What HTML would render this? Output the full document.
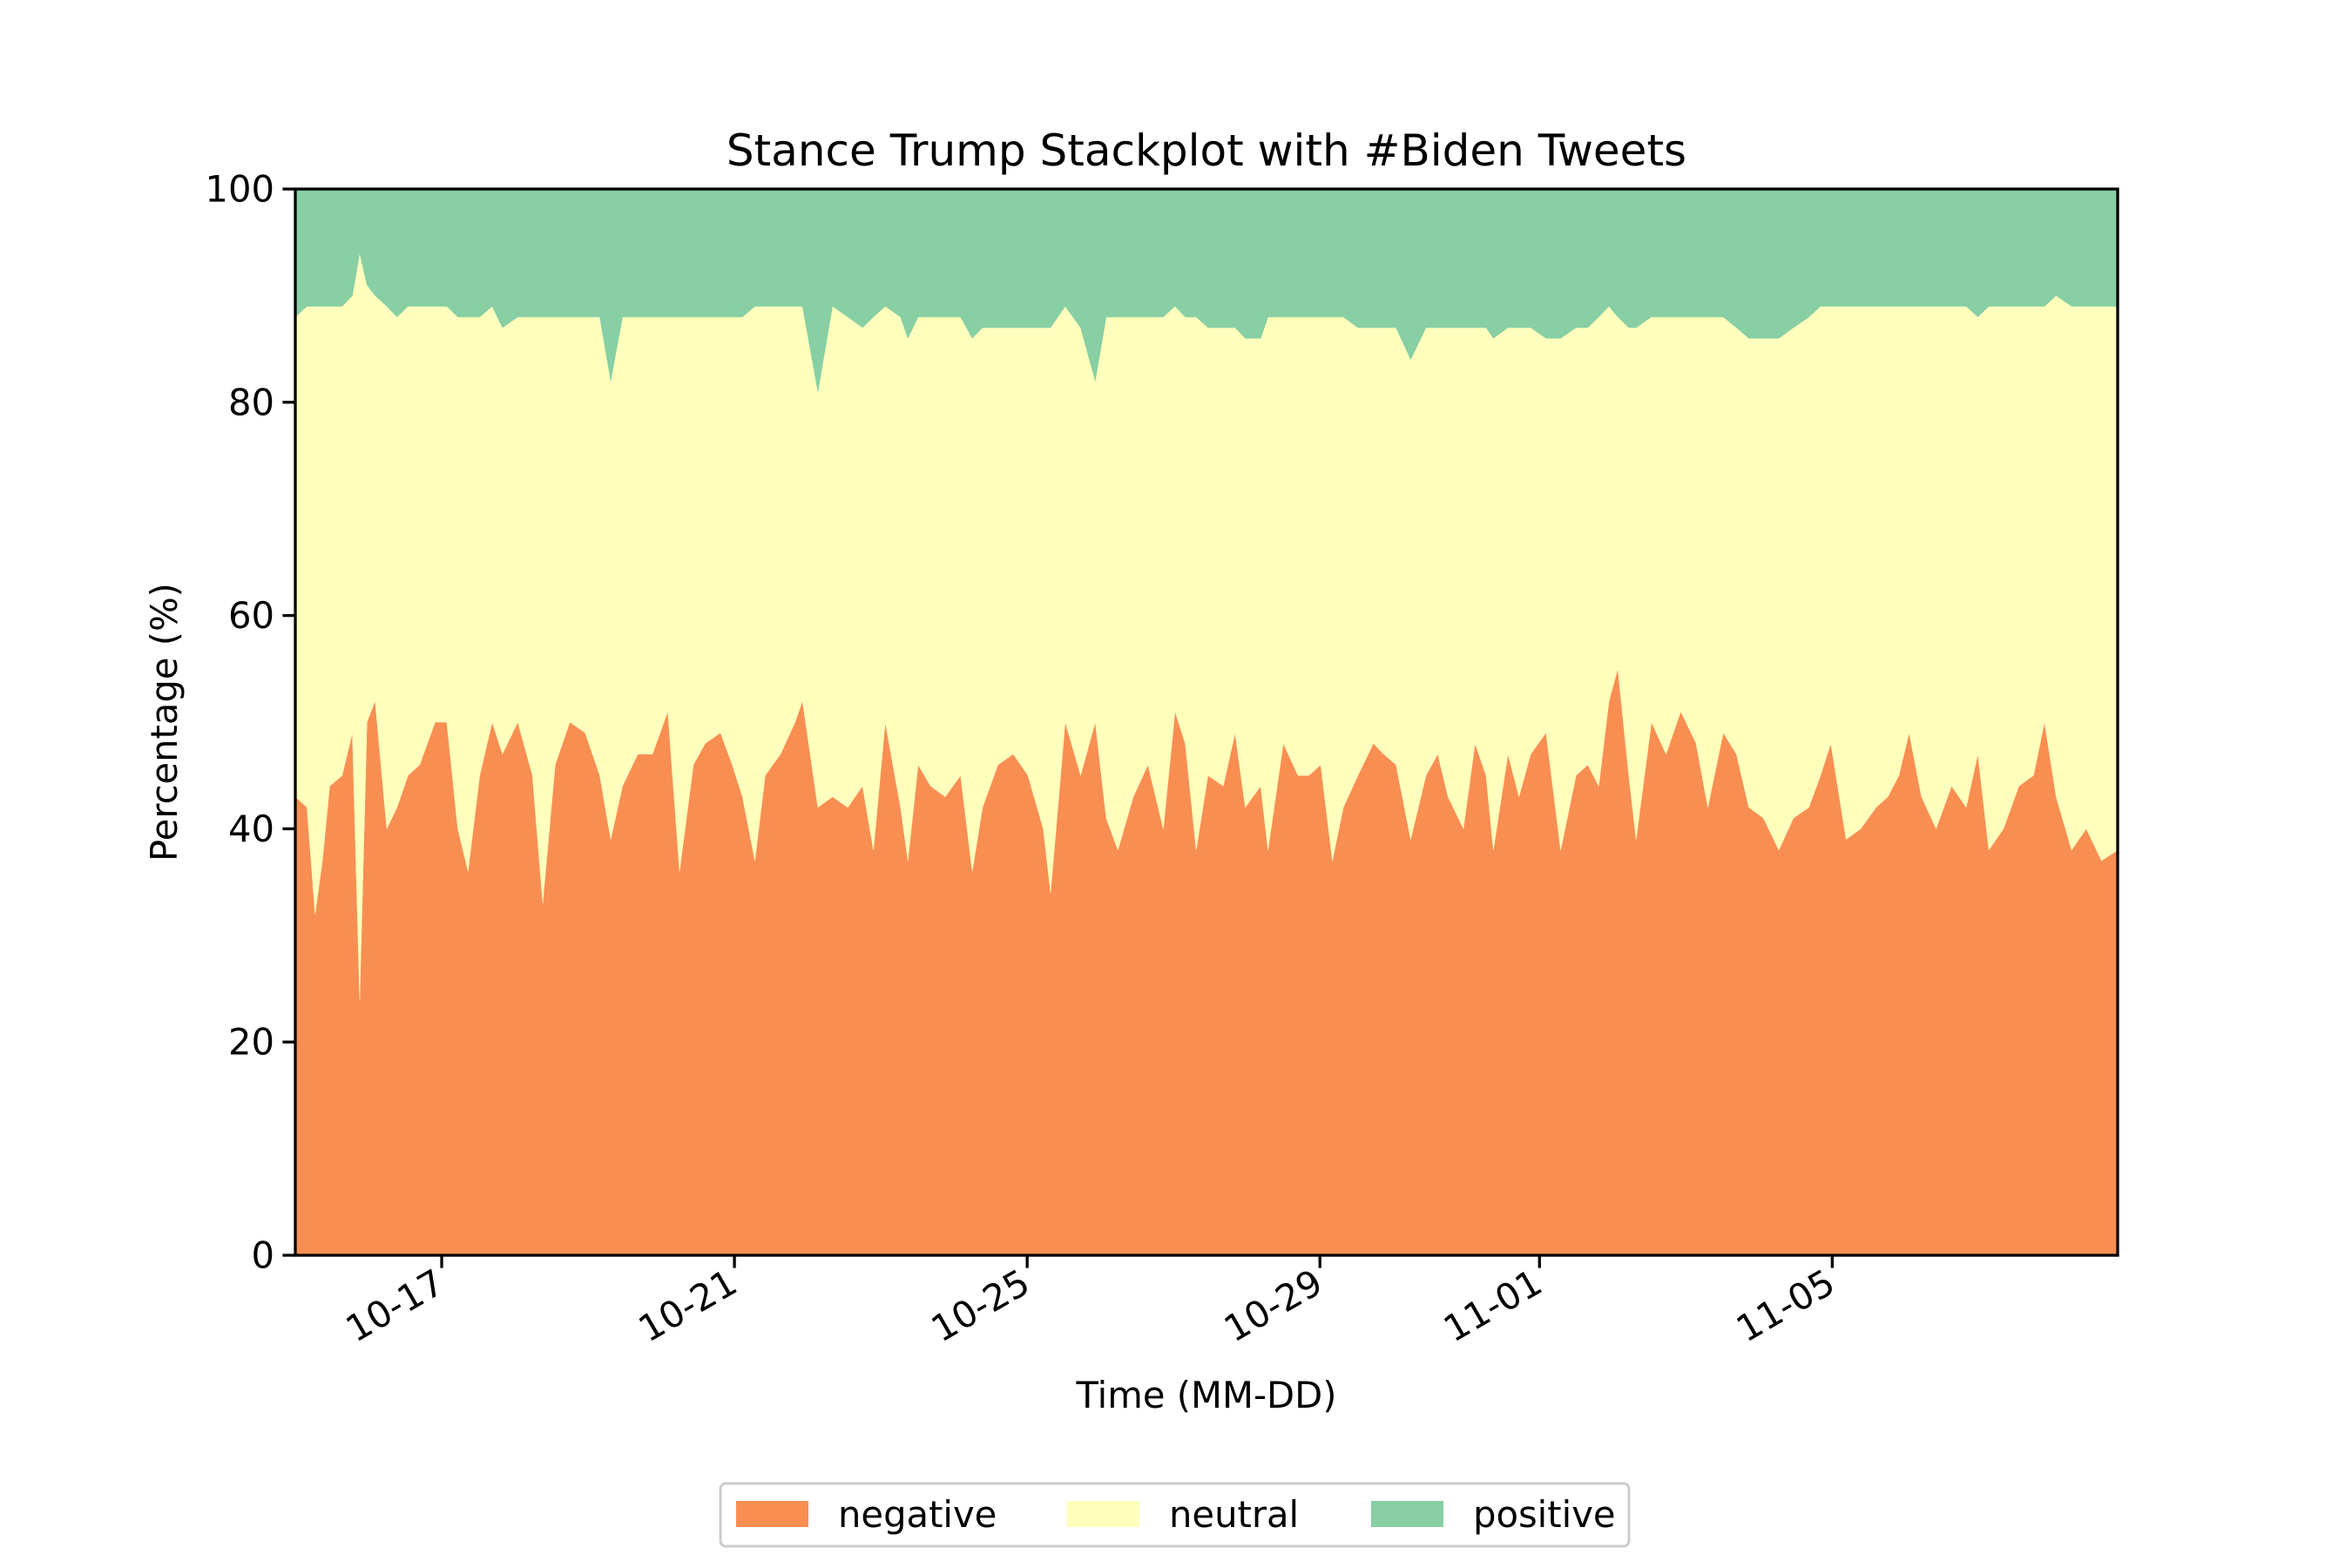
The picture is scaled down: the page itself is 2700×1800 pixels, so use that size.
<!DOCTYPE html>
<html><head><meta charset="utf-8"><style>
html,body{margin:0;padding:0;background:#fff}
svg{display:block;font-family:"DejaVu Sans","Liberation Sans",sans-serif}
</style></head><body>
<svg id="chart" width="2700" height="1800" viewBox="0 0 2700 1800" xmlns="http://www.w3.org/2000/svg">
<rect width="2700" height="1800" fill="#fff"/>
<text x="1385" y="190" font-size="50" text-anchor="middle">Stance Trump Stackplot with #Biden Tweets</text>
<g id="areas"></g>
<g id="axes"></g>
<text x="1385" y="1616" font-size="41.7" text-anchor="middle">Time (MM-DD)</text>
<text transform="translate(203,829) rotate(-90)" font-size="41.7" text-anchor="middle">Percentage (%)</text>
<g id="legend"></g>
</svg>
<script>
// days since 10-15 00:00
const times=[0,0.16,0.27,0.37,0.47,0.64,0.78,0.88,0.98,1.09,
1.25,1.39,1.54,1.70,1.91,2.07,2.22,2.36,2.52,2.69,
2.83,3.04,3.24,3.38,3.55,3.75,3.96,4.16,4.31,4.47,
4.68,4.88,5.09,5.25,5.44,5.60,5.81,5.97,6.11,6.28,
6.42,6.63,6.83,6.93,7.14,7.34,7.55,7.75,7.90,8.06,
8.27,8.37,8.51,8.68,8.88,9.09,9.25,9.39,9.60,9.81,
10.01,10.22,10.32,10.52,10.73,10.93,11.08,11.24,11.45,11.65,
11.86,12.02,12.16,12.31,12.47,12.68,12.84,12.98,13.19,13.29,
13.50,13.70,13.85,14.01,14.17,14.32,14.52,14.73,14.87,15.04,
15.24,15.45,15.61,15.75,15.96,16.12,16.27,16.37,16.57,16.72,
16.88,17.09,17.29,17.50,17.66,17.81,17.95,18.07,18.22,18.32,
18.53,18.73,18.93,19.14,19.30,19.51,19.69,19.86,20.06,20.27,
20.47,20.68,20.84,20.98,21.19,21.39,21.60,21.76,21.91,22.05,
22.22,22.42,22.63,22.83,22.99,23.14,23.34,23.55,23.75,23.90,
24.06,24.27,24.47,24.68,24.90];
const negative=[43,42,32,37,44,45,49,24,50,52,
40,42,45,46,50,50,40,36,45,50,
47,50,45,33,46,50,49,45,39,44,
47,47,51,36,46,48,49,46,43,37,
45,47,50,52,42,43,42,44,38,50,
42,37,46,44,43,45,36,42,46,47,
45,40,34,50,45,50,41,38,43,46,
40,51,48,38,45,44,49,42,44,38,
48,45,45,46,37,42,45,48,47,46,
39,45,47,43,40,48,45,38,47,43,
47,49,38,45,46,44,52,55,45,39,
50,47,51,48,42,49,47,42,41,38,
41,42,45,48,39,40,42,43,45,49,
43,40,44,42,47,38,40,44,45,50,
43,38,40,37,38];
const positive=[12,11,11,11,11,11,10,6,9,10,
11,12,11,11,11,11,12,12,12,11,
13,12,12,12,12,12,12,12,18,12,
12,12,12,12,12,12,12,12,12,11,
11,11,11,11,19,11,12,13,12,11,
12,14,12,12,12,12,14,13,13,13,
13,13,13,11,13,18,12,12,12,12,
12,11,12,12,13,13,13,14,14,12,
12,12,12,12,12,12,13,13,13,13,
16,13,13,13,13,13,13,14,13,13,
13,14,14,13,13,12,11,12,13,13,
12,12,12,12,12,12,13,14,14,14,
13,12,11,11,11,11,11,11,11,11,
11,11,11,11,12,11,11,11,11,11,
10,11,11,11,11];
const neutral=negative.map((v,i)=>100-v-positive[i]);
const xTickDays=[2,6,10,14,17,21];
const xTickLabels=["10-17","10-21","10-25","10-29","11-01","11-05"];
const yTicks=[0,20,40,60,80,100];

const L=339,R=2431,T=217,B=1441,XMAX=24.9;
const xs=d=>L+d/XMAX*(R-L);
const ys=v=>B-v/100*(B-T);
const NS="http://www.w3.org/2000/svg";
function mk(tag,attrs,parent){const e=document.createElementNS(NS,tag);for(const k in attrs)e.setAttribute(k,attrs[k]);parent.appendChild(e);return e;}

const areas=document.getElementById('areas');
const series=[["negative",negative,"#f98e52"],["neutral",neutral,"#fefebd"],["positive",positive,"#88cfa4"]];
let base=times.map(()=>0);
series.forEach(([name,vals,col])=>{
  const top=base.map((b,i)=>b+vals[i]);
  let d="M"+times.map((t,i)=>xs(t).toFixed(1)+","+ys(top[i]).toFixed(1)).join("L");
  for(let i=times.length-1;i>=0;i--)d+="L"+xs(times[i]).toFixed(1)+","+ys(base[i]).toFixed(1);
  d+="Z";
  const p=mk('path',{d:d,fill:col,stroke:col,'stroke-width':0.5},areas);
  
  
  base=top;
});

const axes=document.getElementById('axes');
const frame=mk('rect',{x:L,y:T,width:R-L,height:B-T,fill:'none',stroke:'#000','stroke-width':3.3},axes);


yTicks.forEach(v=>{
  const y=ys(v);
  const tk=mk('line',{x1:L,x2:L-14.6,y1:y,y2:y,stroke:'#000','stroke-width':3.3},axes);
  
  
  const tx=mk('text',{x:L-24,y:y+14.5,'font-size':41.7,'text-anchor':'end'},axes);
  tx.textContent=v;
  
  
});
xTickDays.forEach((d,i)=>{
  const x=xs(d);
  const tk=mk('line',{x1:x,x2:x,y1:B,y2:B+14.6,stroke:'#000','stroke-width':3.3},axes);
  
  
  const tx=mk('text',{transform:`translate(${x+6},${B+40}) rotate(-30)`,'font-size':41.7,'text-anchor':'end'},axes);
  tx.textContent=xTickLabels[i];
  
  
});

const lg=document.getElementById('legend');
const box=mk('rect',{x:827,y:1703,width:1043,height:72,rx:6,fill:'#fff',stroke:'#ccc','stroke-width':3},lg);


const lx=[845,1225,1574];
series.forEach(([name,vals,col],i)=>{
  const r=mk('rect',{x:lx[i],y:1723,width:83,height:30,fill:col},lg);
  
  
  const t=mk('text',{x:lx[i]+117,y:1753,'font-size':41.7},lg);
  t.textContent=name;
  
  
});
</script>
</body></html>
